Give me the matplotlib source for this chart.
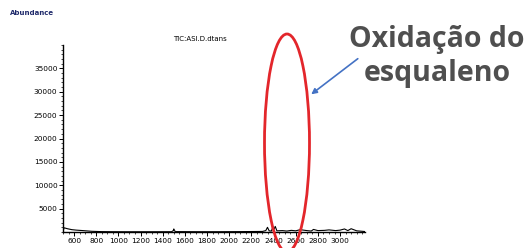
import numpy as np
import matplotlib.pyplot as plt
from matplotlib.patches import Ellipse
from matplotlib.ticker import MultipleLocator

# chromatogram trace
rt = [500, 510, 540, 580, 620, 680, 760, 850, 950, 1100, 1300, 1480, 1495, 1500, 1505,
      1520, 1700, 1900, 2100, 2300, 2330, 2345, 2360, 2380, 2395, 2405, 2415, 2430,
      2480, 2520, 2560, 2600, 2640, 2700, 2740, 2760, 2800, 2860, 2900, 2960, 3000,
      3040, 3070, 3100, 3150, 3200, 3225]
abund = [150, 900, 700, 500, 400, 300, 150, 80, 60, 50, 50, 60, 300, 650, 250,
         80, 60, 60, 80, 120, 300, 1000, 250, 200, 1100, 600, 1200, 250,
         300, 200, 350, 250, 500, 300, 200, 550, 300, 350, 450, 300, 400,
         650, 300, 700, 250, 150, 100]

yticks = [5000, 10000, 15000, 20000, 25000, 30000, 35000]
xticks = list(range(600, 3001, 200))

fig = plt.figure(figsize=(5.28, 2.48), dpi=100)
ax = fig.add_axes([63/528, 16/248, 302/528, 187/248])
ax.plot(rt, abund, color='black', lw=0.8)
ax.set_xlim(500, 3225)
ax.set_ylim(0, 40000)
ax.spines['top'].set_visible(False)
ax.spines['right'].set_visible(False)
for s in ('left', 'bottom'):
    ax.spines[s].set_linewidth(1.0)
ax.set_xticks(xticks)
ax.set_yticks(yticks)
ax.xaxis.set_minor_locator(MultipleLocator(50))
ax.yaxis.set_minor_locator(MultipleLocator(1000))
ax.tick_params(axis='both', which='major', length=3, width=0.7, labelsize=5.3, pad=1)
ax.tick_params(axis='both', which='minor', length=1.5, width=0.5)
ax.set_xticklabels([str(v) for v in xticks], family='DejaVu Sans Condensed')
ax.set_yticklabels([str(v) for v in yticks], family='DejaVu Sans Condensed')

fig.text(200/528, 1 - 39/248, 'TIC:ASI.D.dtans', fontsize=5, ha='center', va='center',
         family='DejaVu Sans Condensed')
fig.text(10/528, 1 - 13/248, 'Abundance', fontsize=5, color='#1f2a6b', ha='left',
         va='center', family='DejaVu Sans Condensed', weight='bold')

# highlight ellipse around squalene oxidation region
ell = Ellipse((287/528, 1 - 143/248), 45/528, 218/248, transform=fig.transFigure,
              fill=False, edgecolor='#e3262b', lw=2.0, clip_on=False)
fig.add_artist(ell)

fig.text(437/528, 1 - 40/248, 'Oxidação do', fontsize=20.5, weight='bold', color='#4f4f4f',
         ha='center', va='center', family='Open Sans')
fig.text(437/528, 1 - 74/248, 'esqualeno', fontsize=20.5, weight='bold', color='#4f4f4f',
         ha='center', va='center', family='Open Sans')
fig.add_artist(plt.Annotation('', xy=(309/528, 1 - 96/248), xytext=(360/528, 1 - 57/248),
                              xycoords='figure fraction', textcoords='figure fraction',
                              arrowprops=dict(arrowstyle='-|>', color='#4472c4', lw=1.2,
                                              mutation_scale=8)))

fig.savefig('out.png', dpi=100)
